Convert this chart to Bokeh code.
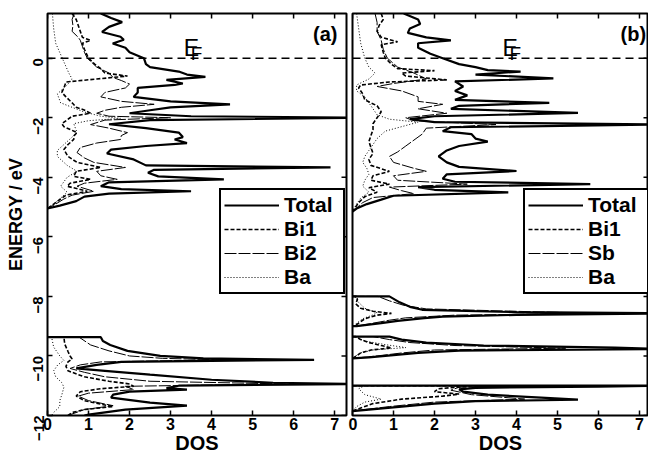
import numpy as np
from bokeh.plotting import figure
from bokeh.models import Range1d, LinearAxis, FixedTicker, Span, Legend, LegendItem, Label
from bokeh.layouts import row
from bokeh.embed import file_html
from bokeh.resources import INLINE

FONT = "Liberation Sans"
X_TICKS = [0, 1, 2, 3, 4, 5, 6, 7]
Y_TICKS = [-12, -10, -8, -6, -4, -2, 0]

# ---------------- panel (a): [energy eV, DOS] ----------------
A_TOTAL_VB = [[1.5, 1.3], [1.35, 1.55], [1.21, 1.82], [1.05, 1.5], [0.88, 1.33], [0.72, 1.78], [0.62, 1.86],
              [0.49, 1.59], [0.35, 1.9], [0.2, 2.0], [0.0, 2.35], [-0.2, 2.4], [-0.3, 2.5], [-0.45, 3.2],
              [-0.55, 3.4], [-0.63, 3.85], [-0.73, 2.9], [-0.85, 3.3], [-0.9, 3.1], [-1.0, 2.2], [-1.15, 2.2],
              [-1.3, 2.1], [-1.45, 3.0], [-1.55, 4.45], [-1.65, 3.0], [-1.75, 2.5], [-1.85, 2.0], [-1.95, 3.5],
              [-2.0, 8.0], [-2.08, 2.5], [-2.22, 1.5], [-2.35, 2.4], [-2.5, 3.2], [-2.65, 3.3], [-2.73, 3.1],
              [-2.85, 3.4], [-2.95, 2.4], [-3.07, 1.55], [-3.2, 1.45], [-3.4, 2.1], [-3.6, 2.4], [-3.67, 6.9],
              [-3.75, 2.6], [-3.85, 2.45], [-3.97, 2.7], [-4.07, 4.3], [-4.17, 1.5], [-4.3, 1.3], [-4.4, 1.8],
              [-4.47, 3.5], [-4.55, 1.5], [-4.65, 0.9], [-4.8, 0.7], [-4.95, 0.3], [-5.05, 0.0]]
A_BI1_VB = [[1.5, 0.6], [1.3, 0.7], [1.1, 0.75], [0.9, 0.8], [0.7, 0.85], [0.6, 1.05], [0.5, 0.85], [0.3, 0.9],
            [0.0, 1.0], [-0.2, 1.15], [-0.35, 1.3], [-0.5, 1.4], [-0.6, 1.95], [-0.7, 1.2], [-0.8, 0.45],
            [-1.0, 0.4], [-1.15, 0.35], [-1.3, 0.45], [-1.5, 0.6], [-1.65, 0.7], [-1.73, 0.88], [-1.85, 1.05],
            [-1.95, 0.6], [-2.07, 0.48], [-2.2, 0.35], [-2.3, 0.4], [-2.5, 0.72], [-2.6, 0.65], [-2.73, 0.64],
            [-2.9, 0.5], [-3.07, 0.4], [-3.3, 0.5], [-3.5, 0.72], [-3.67, 1.3], [-3.8, 0.7], [-3.97, 0.64],
            [-4.07, 1.05], [-4.2, 0.55], [-4.3, 0.48], [-4.47, 0.97], [-4.6, 0.45], [-4.73, 0.32], [-4.9, 0.15],
            [-5.05, 0.0]]
A_BI2_VB = [[1.5, 0.65], [1.3, 0.6], [1.1, 0.62], [0.9, 0.6], [0.7, 0.75], [0.6, 0.8], [0.4, 0.85], [0.2, 0.9],
            [0.0, 0.97], [-0.3, 1.2], [-0.5, 1.5], [-0.65, 1.6], [-0.75, 1.8], [-0.87, 2.0], [-1.0, 1.9],
            [-1.15, 1.4], [-1.3, 1.3], [-1.45, 1.8], [-1.55, 2.6], [-1.65, 1.8], [-1.75, 1.4], [-1.85, 1.2],
            [-1.95, 1.5], [-2.0, 3.0], [-2.08, 1.4], [-2.23, 1.05], [-2.35, 1.5], [-2.5, 1.95], [-2.6, 1.8],
            [-2.73, 1.78], [-2.85, 1.2], [-3.0, 0.8], [-3.17, 0.72], [-3.35, 0.9], [-3.5, 1.13], [-3.67, 1.9],
            [-3.8, 1.2], [-3.95, 1.3], [-4.07, 1.7], [-4.2, 0.9], [-4.3, 0.72], [-4.47, 1.13], [-4.6, 0.6],
            [-4.73, 0.4], [-4.9, 0.2], [-5.05, 0.0]]
A_BA_VB = [[1.5, 0.12], [1.0, 0.15], [0.5, 0.2], [0.0, 0.36], [-0.5, 0.52], [-0.7, 0.6], [-0.9, 0.48],
           [-1.2, 0.24], [-1.5, 0.32], [-1.8, 0.88], [-1.95, 1.3], [-2.02, 1.78], [-2.1, 1.0], [-2.2, 0.64],
           [-2.5, 0.72], [-2.8, 0.48], [-3.1, 0.24], [-3.3, 0.24], [-3.6, 0.48], [-3.8, 0.72], [-4.0, 0.48],
           [-4.3, 0.32], [-4.5, 0.48], [-4.8, 0.24], [-5.05, 0.0]]
A_TOTAL_LB = [[-9.37, 0.0], [-9.37, 1.3], [-9.5, 1.35], [-9.63, 1.53], [-9.83, 1.95], [-10.0, 2.75], [-10.08, 3.8],
              [-10.13, 6.5], [-10.2, 1.8], [-10.3, 1.2], [-10.42, 0.7], [-10.5, 1.4], [-10.63, 2.5], [-10.8, 4.0],
              [-10.9, 5.5], [-10.94, 7.6], [-11.0, 3.2], [-11.08, 2.9], [-11.13, 3.4], [-11.2, 2.0], [-11.3, 1.6],
              [-11.4, 1.55], [-11.57, 2.5], [-11.67, 3.4], [-11.8, 1.9], [-11.97, 1.0], [-12.0, 0.9]]
A_BI1_LB = [[-9.37, 0.0], [-9.37, 0.4], [-9.6, 0.42], [-9.85, 0.5], [-10.0, 0.55], [-10.1, 0.6], [-10.2, 0.5],
            [-10.35, 0.45], [-10.5, 0.5], [-10.7, 0.9], [-10.85, 1.5], [-10.94, 2.0], [-11.02, 2.1], [-11.1, 1.3],
            [-11.2, 0.8], [-11.35, 0.7], [-11.5, 0.9], [-11.62, 1.3], [-11.7, 1.6], [-11.8, 0.9], [-11.9, 0.6],
            [-12.0, 0.5]]
A_BI2_LB = [[-9.37, 0.0], [-9.37, 0.77], [-9.63, 1.05], [-9.83, 1.5], [-10.0, 2.0], [-10.08, 2.8], [-10.13, 4.2],
            [-10.2, 1.3], [-10.3, 0.8], [-10.42, 0.55], [-10.55, 0.9], [-10.7, 1.4], [-10.85, 2.5], [-10.94, 5.8],
            [-11.02, 1.9], [-11.13, 2.1], [-11.25, 1.0], [-11.35, 0.75], [-11.5, 1.0], [-11.67, 1.6], [-11.8, 0.9],
            [-12.0, 0.5]]
A_BA_LB = [[-9.37, 0.0], [-9.37, 0.1], [-9.7, 0.15], [-10.0, 0.3], [-10.15, 0.4], [-10.3, 0.25], [-10.5, 0.15],
           [-10.7, 0.2], [-10.9, 0.35], [-11.05, 0.4], [-11.3, 0.35], [-11.5, 0.3], [-11.7, 0.3], [-11.9, 0.15],
           [-12.0, 0.1]]

# ---------------- panel (b): [energy eV, DOS] ----------------
B_TOTAL_VB = [[1.5, 1.25], [1.3, 1.6], [1.15, 1.65], [1.0, 1.4], [0.85, 1.35], [0.7, 1.8], [0.6, 2.4], [0.5, 1.6],
              [0.35, 1.6], [0.15, 1.9], [0.0, 2.2], [-0.2, 2.6], [-0.3, 3.0], [-0.4, 3.3], [-0.45, 4.1],
              [-0.55, 3.0], [-0.68, 4.9], [-0.78, 2.5], [-0.95, 2.7], [-1.1, 2.5], [-1.25, 2.8], [-1.4, 2.5],
              [-1.5, 4.8], [-1.6, 2.6], [-1.7, 2.4], [-1.84, 5.5], [-1.95, 2.0], [-2.05, 1.4], [-2.15, 2.0],
              [-2.23, 7.6], [-2.32, 2.4], [-2.45, 2.2], [-2.55, 2.9], [-2.7, 3.0], [-2.8, 3.3], [-2.95, 2.6],
              [-3.1, 2.3], [-3.3, 2.1], [-3.5, 2.3], [-3.65, 2.6], [-3.79, 4.0], [-3.9, 2.3], [-4.05, 2.2],
              [-4.15, 2.5], [-4.23, 5.8], [-4.33, 1.6], [-4.42, 2.0], [-4.51, 3.8], [-4.62, 1.0], [-4.75, 0.7],
              [-4.9, 0.35], [-5.05, 0.1], [-5.15, 0.0]]
B_BI1_VB = [[1.5, 0.7], [1.3, 0.75], [1.1, 0.65], [0.9, 0.6], [0.7, 0.7], [0.55, 1.1], [0.45, 0.7], [0.2, 0.75],
            [0.0, 0.8], [-0.2, 0.95], [-0.35, 1.1], [-0.42, 2.0], [-0.5, 1.2], [-0.6, 1.3], [-0.73, 2.3],
            [-0.8, 0.9], [-0.9, 0.2], [-1.0, 0.15], [-1.2, 0.25], [-1.4, 0.3], [-1.6, 0.6], [-1.8, 0.7],
            [-2.0, 0.6], [-2.2, 0.5], [-2.4, 0.5], [-2.6, 0.45], [-2.8, 0.4], [-3.0, 0.45], [-3.2, 0.5],
            [-3.4, 0.4], [-3.6, 0.45], [-3.8, 0.9], [-3.95, 0.5], [-4.1, 0.45], [-4.23, 0.9], [-4.35, 0.4],
            [-4.5, 0.6], [-4.65, 0.3], [-4.85, 0.15], [-5.15, 0.0]]
B_SB_VB = [[1.5, 0.55], [1.2, 0.6], [0.9, 0.6], [0.6, 0.7], [0.3, 0.75], [0.0, 0.85], [-0.3, 1.1], [-0.5, 1.5],
           [-0.7, 1.8], [-0.85, 1.0], [-0.95, 0.6], [-1.1, 1.2], [-1.3, 1.6], [-1.45, 1.6], [-1.55, 2.2],
           [-1.7, 1.6], [-1.85, 2.3], [-2.0, 1.3], [-2.1, 1.5], [-2.23, 3.5], [-2.35, 1.8], [-2.55, 1.7],
           [-2.75, 1.5], [-2.95, 1.3], [-3.15, 1.1], [-3.3, 0.9], [-3.5, 1.0], [-3.7, 1.5], [-3.8, 1.8],
           [-3.95, 1.0], [-4.1, 1.1], [-4.23, 2.8], [-4.33, 0.9], [-4.45, 1.2], [-4.55, 1.5], [-4.68, 0.5],
           [-4.85, 0.25], [-5.15, 0.0]]
B_BA_VB = [[1.5, 0.1], [1.0, 0.15], [0.5, 0.2], [0.0, 0.3], [-0.3, 0.4], [-0.5, 0.55], [-0.7, 0.4], [-0.9, 0.1],
           [-1.1, 0.1], [-1.3, 0.3], [-1.5, 0.4], [-1.7, 0.5], [-1.9, 0.6], [-2.05, 0.9], [-2.15, 1.6],
           [-2.3, 1.2], [-2.45, 0.8], [-2.7, 0.6], [-2.9, 0.5], [-3.1, 0.4], [-3.3, 0.3], [-3.5, 0.25],
           [-3.7, 0.35], [-3.9, 0.4], [-4.1, 0.3], [-4.3, 0.25], [-4.5, 0.4], [-4.7, 0.2], [-4.9, 0.1],
           [-5.15, 0.0]]
B_TOTAL_LB1 = [[-8.0, 0.0], [-8.0, 0.9], [-8.2, 1.15], [-8.35, 1.4], [-8.45, 1.7], [-8.53, 4.0], [-8.57, 7.8],
               [-8.62, 4.0], [-8.68, 2.2], [-8.73, 1.75], [-8.82, 1.1], [-8.9, 0.7], [-9.0, 0.1], [-9.0, 0.0]]
B_BI1_LB1 = [[-8.0, 0.0], [-8.0, 0.1], [-8.1, 0.12], [-8.25, 0.08], [-8.4, 0.2], [-8.5, 0.5], [-8.57, 0.95],
             [-8.63, 0.6], [-8.75, 0.3], [-8.9, 0.15], [-9.0, 0.05]]
B_SB_LB1 = [[-8.0, 0.0], [-8.0, 0.62], [-8.15, 0.9], [-8.3, 1.25], [-8.42, 1.8], [-8.52, 4.5], [-8.57, 6.0],
            [-8.63, 2.5], [-8.72, 1.3], [-8.8, 0.9], [-8.9, 0.5], [-9.0, 0.1], [-9.0, 0.0]]
B_BA_LB1 = [[-8.0, 0.0], [-8.0, 0.05], [-8.2, 0.15], [-8.4, 0.3], [-8.55, 0.6], [-8.62, 0.5], [-8.75, 0.25],
            [-8.9, 0.1], [-9.0, 0.03]]
B_TOTAL_LB2 = [[-9.35, 0.0], [-9.35, 0.9], [-9.45, 1.2], [-9.55, 1.8], [-9.65, 3.2], [-9.72, 6.4], [-9.77, 7.6],
               [-9.82, 2.6], [-9.9, 1.6], [-9.97, 1.0], [-10.05, 0.4], [-10.08, 0.0]]
B_BI1_LB2 = [[-9.35, 0.0], [-9.35, 0.08], [-9.45, 0.2], [-9.55, 0.4], [-9.65, 0.7], [-9.73, 0.95], [-9.8, 0.45],
             [-9.9, 0.2], [-10.0, 0.1], [-10.08, 0.0]]
B_SB_LB2 = [[-9.35, 0.0], [-9.35, 0.5], [-9.45, 0.9], [-9.55, 1.4], [-9.65, 2.5], [-9.74, 5.2], [-9.8, 2.0],
            [-9.9, 1.2], [-10.0, 0.6], [-10.08, 0.0]]
B_BA_LB2 = [[-9.35, 0.0], [-9.35, 0.05], [-9.5, 0.3], [-9.62, 0.8], [-9.72, 1.3], [-9.8, 0.5], [-9.9, 0.2],
            [-10.0, 0.08], [-10.08, 0.0]]
B_TOTAL_LB3 = [[-11.0, 0.0], [-11.0, 7.4], [-11.03, 6.0], [-11.07, 3.0], [-11.12, 2.6], [-11.2, 2.7], [-11.3, 3.3],
               [-11.4, 4.6], [-11.47, 5.5], [-11.52, 3.0], [-11.6, 2.0], [-11.7, 1.2], [-11.8, 0.4], [-11.85, 0.0]]
B_BI1_LB3 = [[-11.0, 0.0], [-11.0, 3.0], [-11.1, 2.1], [-11.2, 2.0], [-11.28, 2.6], [-11.35, 2.2], [-11.45, 1.2],
             [-11.6, 0.5], [-11.75, 0.2], [-11.85, 0.0]]
B_SB_LB3 = [[-11.0, 0.0], [-11.0, 6.0], [-11.05, 2.6], [-11.15, 2.4], [-11.3, 2.9], [-11.45, 4.2], [-11.55, 2.0],
            [-11.7, 0.9], [-11.85, 0.0]]
B_BA_LB3 = [[-11.0, 0.0], [-11.0, 0.3], [-11.1, 0.15], [-11.3, 0.3], [-11.45, 0.7], [-11.55, 0.3], [-11.7, 0.1],
            [-11.85, 0.0]]

A_SERIES = [("Total", [A_TOTAL_VB, A_TOTAL_LB]), ("Bi1", [A_BI1_VB, A_BI1_LB]),
            ("Bi2", [A_BI2_VB, A_BI2_LB]), ("Ba", [A_BA_VB, A_BA_LB])]
B_SERIES = [("Total", [B_TOTAL_VB, B_TOTAL_LB1, B_TOTAL_LB2, B_TOTAL_LB3]),
            ("Bi1", [B_BI1_VB, B_BI1_LB1, B_BI1_LB2, B_BI1_LB3]),
            ("Sb", [B_SB_VB, B_SB_LB1, B_SB_LB2, B_SB_LB3]),
            ("Ba", [B_BA_VB, B_BA_LB1, B_BA_LB2, B_BA_LB3])]

STYLES = [dict(line_width=2.2, line_dash="solid"),
          dict(line_width=1.6, line_dash="4 2"),
          dict(line_width=1.0, line_dash="12 2"),
          dict(line_width=1.0, line_dash="1 2")]

YMIN, YMAX = -12, 1.5
HEIGHT = 456
TOP_PAD = 13
BOTTOM_PAD = 39
PX_PER_EV = (HEIGHT - TOP_PAD - BOTTOM_PAD) / (YMAX - YMIN)
PX_PER_DOS = 41.0
TICK_PX = 5


def make_panel(series, width, xmax, bl, br, tag, tag_x, ef_x, with_ylabels, legend_x):
    p = figure(width=width, height=HEIGHT, x_range=Range1d(0, xmax), y_range=Range1d(YMIN, YMAX),
               output_backend="svg", toolbar_location=None, x_axis_location=None, y_axis_location=None,
               min_border_left=bl, min_border_right=br, min_border_top=TOP_PAD, min_border_bottom=BOTTOM_PAD)
    p.grid.visible = False
    p.outline_line_color = "black"
    p.outline_line_width = 2
    p.outline_line_alpha = 1.0
    p.background_fill_color = "white"
    p.border_fill_color = "white"

    xb = LinearAxis(ticker=FixedTicker(ticks=X_TICKS), axis_label="DOS")
    xb.axis_line_color = None
    xb.major_tick_in = TICK_PX
    xb.major_tick_out = 0
    xb.major_tick_line_width = 1.5
    xb.major_tick_line_color = "black"
    xb.minor_tick_line_color = None
    xb.major_label_text_font = FONT
    xb.major_label_text_font_style = "bold"
    xb.major_label_text_font_size = "16px"
    xb.major_label_text_color = "black"
    xb.major_label_standoff = 2
    xb.axis_label_text_font = FONT
    xb.axis_label_text_font_style = "bold"
    xb.axis_label_text_font_size = "20px"
    xb.axis_label_text_color = "black"
    xb.axis_label_standoff = -1
    p.add_layout(xb, "below")

    if with_ylabels:
        yl = LinearAxis(ticker=FixedTicker(ticks=Y_TICKS), axis_label="ENERGY / eV")
        yl.axis_line_color = None
        yl.major_tick_in = TICK_PX
        yl.major_tick_out = 0
        yl.major_tick_line_width = 1.5
        yl.major_tick_line_color = "black"
        yl.minor_tick_line_color = None
        yl.major_label_text_font = FONT
        yl.major_label_text_font_style = "bold"
        yl.major_label_text_font_size = "15px"
        yl.major_label_text_color = "black"
        yl.major_label_orientation = np.pi / 2
        yl.major_label_standoff = 9
        yl.axis_label_text_font = FONT
        yl.axis_label_text_font_style = "bold"
        yl.axis_label_text_font_size = "18px"
        yl.axis_label_text_color = "black"
        yl.axis_label_standoff = 0
        p.add_layout(yl, "left")

    # inward tick marks on the top and right frame edges
    tx = np.array(X_TICKS, dtype=float)
    dy = TICK_PX / PX_PER_EV
    p.segment(x0=tx, y0=np.full(len(tx), YMAX), x1=tx, y1=np.full(len(tx), YMAX - dy),
              line_color="black", line_width=1.5)
    ty = np.array(Y_TICKS, dtype=float)
    dx = TICK_PX / PX_PER_DOS
    p.segment(x0=np.full(len(ty), xmax), y0=ty, x1=np.full(len(ty), xmax - dx), y1=ty,
              line_color="black", line_width=1.5)

    p.add_layout(Span(location=0, dimension="width", line_color="black", line_width=1.5, line_dash="8 5"))

    first = {}
    for idx in [3, 2, 1, 0]:
        name, parts = series[idx]
        for k, part in enumerate(parts):
            arr = np.array(part)
            r = p.line(arr[:, 1], arr[:, 0], line_color="black", **STYLES[idx])
            if k == 0:
                first[idx] = r

    items = [LegendItem(label=series[i][0], renderers=[first[i]]) for i in range(4)]
    leg = Legend(items=items, location=(legend_x, 121), orientation="vertical",
                 border_line_color="black", border_line_width=2, border_line_alpha=1.0,
                 background_fill_color="white", background_fill_alpha=1.0,
                 label_text_font=FONT, label_text_font_style="bold", label_text_color="black",
                 label_text_font_size="21px", glyph_width=55, glyph_height=22, label_height=22,
                 label_width=56, spacing=-2, padding=3, margin=0, label_standoff=5)
    p.add_layout(leg)

    p.add_layout(Label(x=tag_x, y=0.8, text=tag, text_align="right", text_baseline="alphabetic",
                       text_font=FONT, text_font_style="bold", text_font_size="20px", text_color="black"))
    p.add_layout(Label(x=ef_x, y=0.33, text="E", text_align="left", text_baseline="alphabetic",
                       text_font=FONT, text_font_size="23px", text_color="black"))
    p.add_layout(Label(x=ef_x + 0.17, y=0.15, text="F", text_align="left", text_baseline="alphabetic",
                       text_font=FONT, text_font_size="19px", text_color="black"))
    return p


pa = make_panel(A_SERIES, 348, 7.29, 47, 2, "(a)", 7.07, 3.32, True, 172)
pb = make_panel(B_SERIES, 300, 7.22, 4, 0, "(b)", 7.16, 3.66, False, 171)

layout = row(pa, pb)
open("out.html", "w").write(file_html(layout, INLINE))
